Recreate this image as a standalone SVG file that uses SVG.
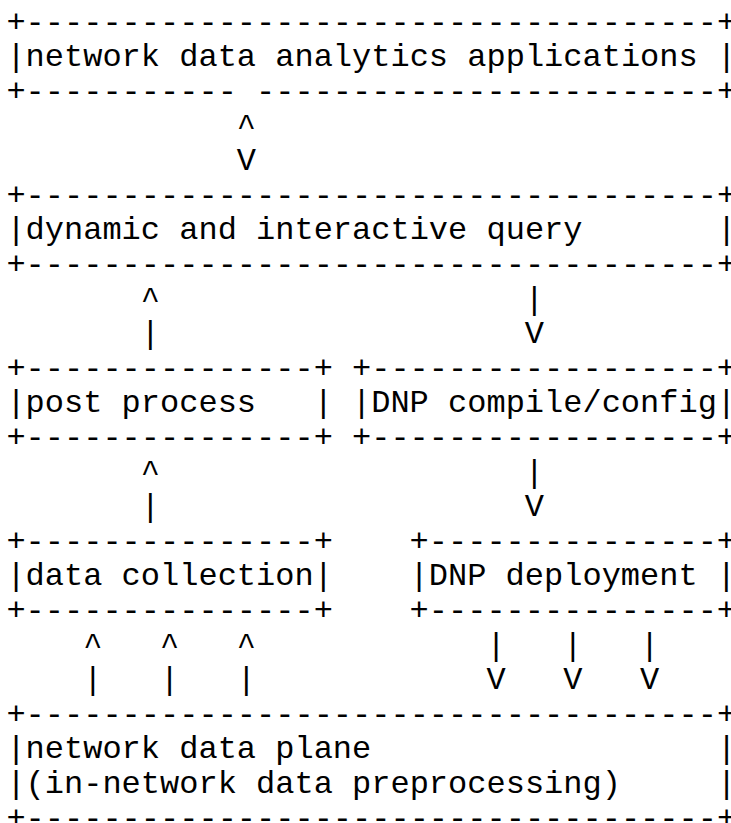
<svg xmlns="http://www.w3.org/2000/svg" width="731" height="823" viewBox="0 0 731 823">
<style>
text{font-family:"Liberation Mono","Courier New",monospace;font-size:32px;fill:#000;white-space:pre}
</style>
<rect width="731" height="823" fill="#fff"/>
<g transform="translate(0,3.5)">
<g id="apps">
<text x="6.4" y="28.3" xml:space="preserve">+------------------------------------+</text>
<text x="6.4" y="62.9" xml:space="preserve">|network data analytics applications |</text>
<text x="6.4" y="97.5" xml:space="preserve">+----------- ------------------------+</text>
</g>
<g id="query">
<text x="6.4" y="201.3" xml:space="preserve">+------------------------------------+</text>
<text x="6.4" y="235.9" xml:space="preserve">|dynamic and interactive query       |</text>
<text x="6.4" y="270.5" xml:space="preserve">+------------------------------------+</text>
</g>
<g id="post">
<text x="6.4" y="374.3" xml:space="preserve">+---------------+</text>
<text x="6.4" y="408.9" xml:space="preserve">|post process   |</text>
<text x="6.4" y="443.5" xml:space="preserve">+---------------+</text>
</g>
<g id="compile">
<text x="352" y="374.3" xml:space="preserve">+------------------+</text>
<text x="352" y="408.9" xml:space="preserve">|DNP compile/config|</text>
<text x="352" y="443.5" xml:space="preserve">+------------------+</text>
</g>
<g id="collection">
<text x="6.4" y="547.3" xml:space="preserve">+---------------+</text>
<text x="6.4" y="581.9" xml:space="preserve">|data collection|</text>
<text x="6.4" y="616.5" xml:space="preserve">+---------------+</text>
</g>
<g id="deployment">
<text x="409.6" y="547.3" xml:space="preserve">+---------------+</text>
<text x="409.6" y="581.9" xml:space="preserve">|DNP deployment |</text>
<text x="409.6" y="616.5" xml:space="preserve">+---------------+</text>
</g>
<g id="dataplane">
<text x="6.4" y="720.3" xml:space="preserve">+------------------------------------+</text>
<text x="6.4" y="754.9" xml:space="preserve">|network data plane                  |</text>
<text x="6.4" y="789.5" xml:space="preserve">|(in-network data preprocessing)     |</text>
<text x="6.4" y="824.1" xml:space="preserve">+------------------------------------+</text>
</g>
<g id="connectors">
<text x="236.8" y="132.1">^</text>
<text x="236.8" y="166.7">V</text>
<text x="140.8" y="305.1">^</text>
<text x="140.8" y="339.7">|</text>
<text x="524.8" y="305.1">|</text>
<text x="524.8" y="339.7">V</text>
<text x="140.8" y="478.1">^</text>
<text x="140.8" y="512.7">|</text>
<text x="524.8" y="478.1">|</text>
<text x="524.8" y="512.7">V</text>
<text x="83.2" y="651.1">^</text>
<text x="83.2" y="685.7">|</text>
<text x="160" y="651.1">^</text>
<text x="160" y="685.7">|</text>
<text x="236.8" y="651.1">^</text>
<text x="236.8" y="685.7">|</text>
<text x="486.4" y="651.1">|</text>
<text x="486.4" y="685.7">V</text>
<text x="563.2" y="651.1">|</text>
<text x="563.2" y="685.7">V</text>
<text x="640" y="651.1">|</text>
<text x="640" y="685.7">V</text>
</g>
</g>
</svg>
